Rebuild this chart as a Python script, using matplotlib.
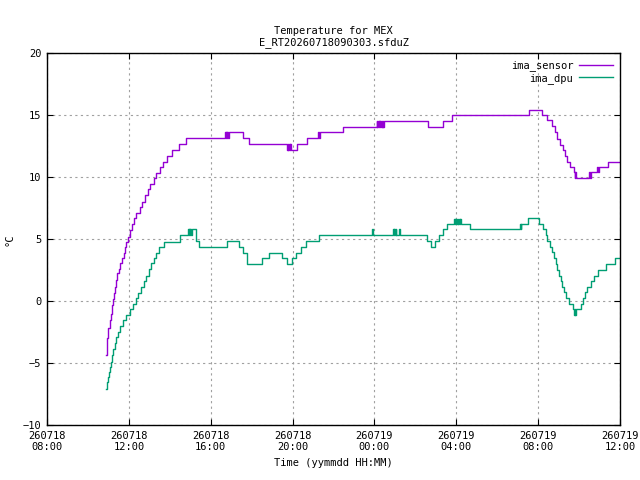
import datetime as dt
import matplotlib
matplotlib.use("Agg")
import matplotlib.pyplot as plt
import matplotlib.dates as mdates

# hours after 260718 08:00, value in degC (steps change at that time)
sensor_h = [2.90, 2.93, 3.00, 3.06, 3.11, 3.16, 3.23, 3.27, 3.32, 3.37, 3.42, 3.52,
            3.58, 3.65, 3.75, 3.81, 3.88, 3.94, 4.07, 4.17, 4.27, 4.36, 4.53, 4.66,
            4.80, 4.92, 5.05, 5.21, 5.34, 5.51, 5.67, 5.88, 6.12, 6.45, 6.78,
            8.70, 8.73, 8.76, 8.79, 8.82, 8.85, 8.88,
            9.59, 9.89,
            11.74, 11.77, 11.80, 11.83, 11.86, 11.89, 11.92,
            12.20, 12.69, 13.25, 13.29, 13.34, 14.45,
            16.11, 16.14, 16.17, 16.20, 16.23, 16.26, 16.29, 16.32, 16.35, 16.38, 16.41, 16.44, 16.47,
            18.63, 19.34, 19.78, 23.57, 24.17, 24.45, 24.66, 24.81, 24.94, 25.07,
            25.20, 25.31, 25.43, 25.56, 25.75, 25.78, 25.81, 25.84, 25.93,
            26.50, 26.53, 26.56, 26.89, 26.92, 26.95, 27.43, 28.0]
sensor_t = [-4.35, -3.0, -2.2, -1.53, -1.05, -0.32, 0.2, 0.67, 1.15, 1.7, 2.23, 2.55,
            3.04, 3.44, 3.9, 4.33, 4.78, 5.2, 5.73, 6.18, 6.67, 7.07, 7.55, 8.0,
            8.52, 9.0, 9.43, 9.9, 10.35, 10.78, 11.23, 11.72, 12.18, 12.63, 13.12,
            13.6, 13.12, 13.6, 13.12, 13.6, 13.12, 13.6,
            13.12, 12.67,
            12.2, 12.67, 12.2, 12.67, 12.2, 12.67, 12.2,
            12.67, 13.12, 13.6, 13.12, 13.6, 14.0,
            14.5, 14.0, 14.5, 14.0, 14.5, 14.0, 14.5, 14.0, 14.5, 14.0, 14.5, 14.0, 14.5,
            14.0, 14.5, 15.0, 15.4, 15.0, 14.6, 14.1, 13.65, 13.1, 12.6,
            12.2, 11.7, 11.2, 10.8, 10.4, 9.95, 10.4, 9.95, 9.95,
            10.4, 9.95, 10.4, 10.8, 10.4, 10.8, 11.2, 11.2]

dpu_h = [2.90, 2.93, 2.98, 3.03, 3.08, 3.13, 3.19, 3.24, 3.31, 3.39, 3.48, 3.58,
         3.71, 3.88, 4.04, 4.20, 4.33, 4.46, 4.59, 4.73, 4.85, 4.98, 5.10, 5.23,
         5.34, 5.47, 5.73, 6.48,
         6.89, 6.92, 6.95, 6.98, 7.01, 7.04, 7.07,
         7.27, 7.44, 8.78, 9.38, 9.56, 9.76, 10.52, 10.83, 11.50, 11.71, 11.99,
         12.17, 12.40, 12.66, 13.28, 15.90, 15.93,
         16.92, 16.95, 16.98, 17.01, 17.04, 17.07, 17.20, 17.23,
         18.36, 18.55, 18.75, 18.96, 19.17, 19.37, 19.56,
         19.89, 19.92, 19.95, 19.98, 20.01, 20.04, 20.07, 20.10, 20.13, 20.16, 20.19, 20.22,
         20.67, 23.11, 23.14, 23.17, 23.52, 24.06, 24.25, 24.38, 24.45, 24.58, 24.66,
         24.78, 24.86, 24.94, 25.02, 25.10, 25.18, 25.26, 25.36, 25.52,
         25.72, 25.75, 25.78, 25.81, 25.85, 26.08, 26.18, 26.29, 26.40, 26.57,
         26.73, 26.94, 27.32, 27.76, 28.0]
dpu_t = [-7.1, -6.5, -6.1, -5.7, -5.3, -4.9, -4.35, -3.9, -3.4, -2.93, -2.47, -2.0,
         -1.53, -1.13, -0.67, -0.24, 0.22, 0.67, 1.15, 1.6, 2.04, 2.55, 3.04, 3.44,
         3.9, 4.33, 4.78, 5.3,
         5.8, 5.3, 5.8, 5.3, 5.8, 5.3, 5.8,
         4.8, 4.33, 4.8, 4.33, 3.9, 2.98, 3.44, 3.9, 3.44, 2.98, 3.44,
         3.9, 4.35, 4.8, 5.3, 5.8, 5.3,
         5.8, 5.3, 5.8, 5.3, 5.8, 5.3, 5.8, 5.3,
         5.3, 4.8, 4.35, 4.8, 5.3, 5.8, 6.2,
         6.65, 6.2, 6.65, 6.2, 6.65, 6.2, 6.65, 6.2, 6.65, 6.2, 6.65, 6.2,
         5.78, 6.2, 5.78, 6.2, 6.67, 6.2, 5.78, 5.3, 4.86, 4.38, 3.92,
         3.44, 2.98, 2.5, 2.04, 1.61, 1.15, 0.7, 0.22, -0.24,
         -0.67, -1.1, -0.67, -1.1, -0.67, -0.24, 0.22, 0.7, 1.15, 1.61,
         2.04, 2.5, 2.98, 3.44, 3.44]

start = dt.datetime(2026, 7, 18, 8, 0)
end = dt.datetime(2026, 7, 19, 12, 0)
mono = 'DejaVu Sans Mono'
fs = 7.5


def to_time(hours):
    return [start + dt.timedelta(hours=h) for h in hours]


fig = plt.figure(figsize=(6.4, 4.8), dpi=100)
ax = fig.add_axes([47 / 640, 1 - 425 / 480, 573 / 640, 372 / 480])

ax.plot(to_time(sensor_h), sensor_t, drawstyle='steps-post', color='#9400d3', lw=1.0,
        label='ima_sensor')
ax.plot(to_time(dpu_h), dpu_t, drawstyle='steps-post', color='#009e73', lw=1.0,
        label='ima_dpu')

ax.set_xlim(start, end)
ax.set_ylim(-10, 20)
ax.set_yticks(range(-10, 21, 5))
ax.xaxis.set_major_locator(mdates.HourLocator(byhour=[0, 4, 8, 12, 16, 20]))
ax.xaxis.set_major_formatter(mdates.DateFormatter('%y%m%d\n%H:%M'))

ax.grid(True, color='#a0a0a0', linestyle=(0, (2, 3)), linewidth=0.8)
ax.tick_params(direction='in', length=4, width=0.8, top=True, right=True,
               labelsize=fs, pad=4)
for lab in ax.get_xticklabels() + ax.get_yticklabels():
    lab.set_family(mono)
for s in ax.spines.values():
    s.set_linewidth(1.0)

ax.set_title('Temperature for MEX\nE_RT20260718090303.sfduZ', family=mono,
             fontsize=fs, pad=6, linespacing=1.1)
ax.set_xlabel('Time (yymmdd HH:MM)', family=mono, fontsize=fs, labelpad=4)
fig.text(10 / 640, 1 - 240 / 480, '°C', family=mono, fontsize=fs,
         rotation=90, ha='center', va='center')

leg = ax.legend(loc='upper right', frameon=False, markerfirst=False,
                prop={'family': mono, 'size': fs}, handlelength=3.2,
                borderaxespad=0.3, labelspacing=0.15, handletextpad=0.6)
for t in leg.get_texts():
    t.set_ha('right')

fig.savefig('out.png', dpi=100)
